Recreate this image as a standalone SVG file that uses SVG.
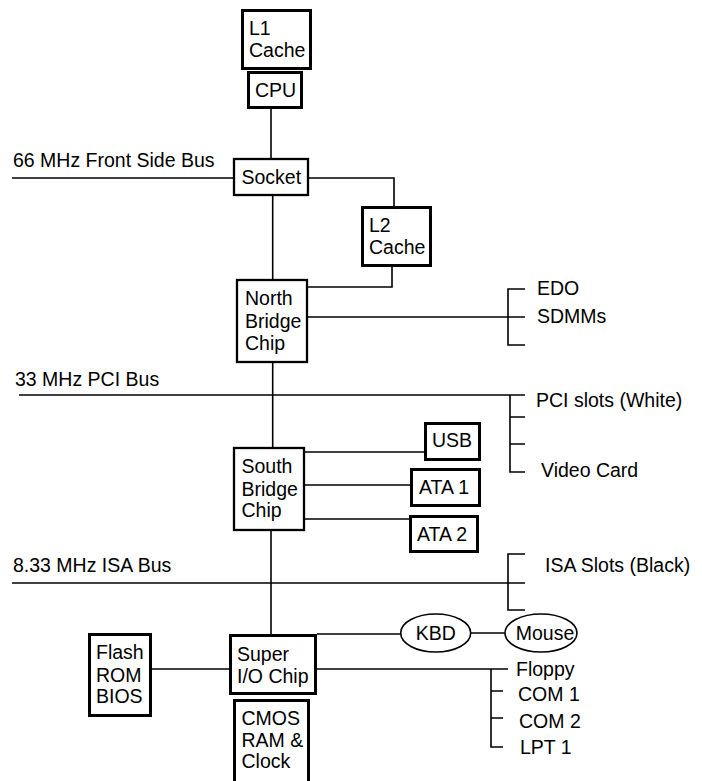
<svg xmlns="http://www.w3.org/2000/svg" width="702" height="781" viewBox="0 0 702 781">
<style>
text{font-family:"Liberation Sans",Arial,sans-serif;font-size:19.5px;fill:#000}
.box{fill:#fff;stroke:#000;stroke-width:3}
.box2{fill:#fff;stroke:#000;stroke-width:2.3}
.ln{fill:none;stroke:#000;stroke-width:1.6}
.ell{fill:#fff;stroke:#000;stroke-width:1.6}
</style>
<rect width="702" height="781" fill="#fff"/>
<g id="connectors">
<path class="ln" d="M271 109V158"/>
<path class="ln" d="M12 178H233"/>
<path class="ln" d="M309 178H394V206"/>
<path class="ln" d="M272.7 196V279"/>
<path class="ln" d="M392 267V287H308"/>
<path class="ln" d="M308 317H525"/>
<path class="ln" d="M525 289H508V345H525"/>
<path class="ln" d="M272.7 363V447"/>
<path class="ln" d="M19 395H525"/>
<path class="ln" d="M510 395V472H525M510 417H525M510 444H525"/>
<path class="ln" d="M305 452H424M305 485H410M305 519H409"/>
<path class="ln" d="M271 531V634"/>
<path class="ln" d="M12 583H525"/>
<path class="ln" d="M525 554H508V610H525"/>
<path class="ln" d="M152 669H229"/>
<path class="ln" d="M317 634H401"/>
<path class="ln" d="M471 633H505"/>
<path class="ln" d="M317 669H508"/>
<path class="ln" d="M491 669V747H503M491 691H503M491 718H503"/>
</g>
<g id="labels">
<text x="13" y="167">66 MHz Front Side Bus</text>
<text x="15" y="386">33 MHz PCI Bus</text>
<text x="13" y="572">8.33 MHz ISA Bus</text>
<text x="537" y="295">EDO</text>
<text x="537" y="323">SDMMs</text>
<text x="536" y="407">PCI slots (White)</text>
<text x="541" y="477">Video Card</text>
<text x="545" y="572">ISA Slots (Black)</text>
<text x="516" y="676">Floppy</text>
<text x="518" y="701">COM 1</text>
<text x="519" y="728">COM 2</text>
<text x="520" y="754">LPT 1</text>
</g>
<g id="l1cache"><rect class="box" x="242.5" y="10.5" width="68" height="58"/><text x="249" y="35">L1</text><text x="249" y="57">Cache</text></g>
<g id="cpu"><rect class="box" x="248.5" y="72.5" width="53" height="35"/><text x="255" y="97">CPU</text></g>
<g id="socket"><rect class="box2" x="234" y="159" width="74" height="36"/><text x="241.5" y="184">Socket</text></g>
<g id="l2cache"><rect class="box" x="362.5" y="207.5" width="68" height="58"/><text x="369" y="232">L2</text><text x="369" y="254">Cache</text></g>
<g id="northbridge"><rect class="box2" x="237" y="280" width="70" height="82"/><text x="245" y="305">North</text><text x="245" y="328">Bridge</text><text x="245" y="350">Chip</text></g>
<g id="southbridge"><rect class="box2" x="234" y="448" width="70" height="82"/><text x="241.5" y="473">South</text><text x="241.5" y="496">Bridge</text><text x="241.5" y="517">Chip</text></g>
<g id="usb"><rect class="box" x="425.5" y="423.5" width="54" height="36"/><text x="432" y="447">USB</text></g>
<g id="ata1"><rect class="box" x="411.5" y="469.5" width="68" height="36"/><text x="419" y="494">ATA 1</text></g>
<g id="ata2"><rect class="box" x="410.5" y="516.5" width="67" height="35"/><text x="417" y="541">ATA 2</text></g>
<g id="flash"><rect class="box" x="89.5" y="634.5" width="61" height="81"/><text x="96" y="659">Flash</text><text x="96" y="682">ROM</text><text x="96" y="703">BIOS</text></g>
<g id="superio"><rect class="box" x="230.5" y="635.5" width="85" height="58"/><text x="237" y="661">Super</text><text x="237" y="683">I/O Chip</text></g>
<g id="cmos"><rect class="box" x="234.5" y="700.5" width="74" height="90"/><text x="241.5" y="725">CMOS</text><text x="241.5" y="747">RAM &amp;</text><text x="241.5" y="768">Clock</text></g>
<g id="kbd"><ellipse class="ell" cx="435.7" cy="633" rx="35" ry="19"/><text x="435.7" y="640" text-anchor="middle">KBD</text></g>
<g id="mouse"><ellipse class="ell" cx="541" cy="633" rx="36" ry="19"/><text x="545" y="640" text-anchor="middle">Mouse</text></g>
</svg>
